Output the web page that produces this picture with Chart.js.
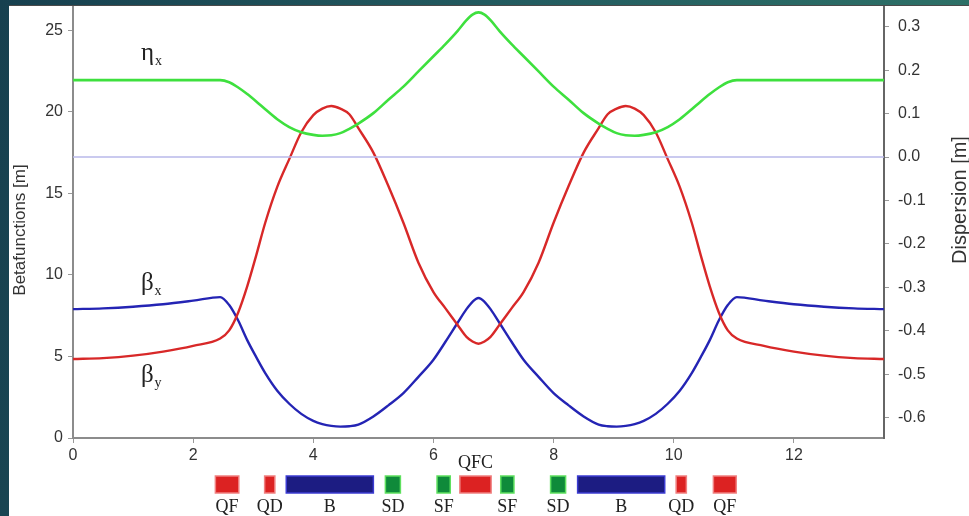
<!DOCTYPE html>
<html><head><meta charset="utf-8">
<script src="https://cdn.jsdelivr.net/npm/chart.js@4.4.1/dist/chart.umd.min.js"></script>
<style>
html,body{margin:0;padding:0;width:969px;height:516px;overflow:hidden;background:linear-gradient(100deg,#17404f 0%,#235c60 50%,#2f7468 100%);}
#wrap{position:absolute;left:9px;top:5px;width:960px;height:511px;background:#fff;}
#edge{position:absolute;left:9px;top:5px;width:960px;height:1px;background:#4a4a4a;}
canvas{display:block}
</style></head><body>
<div id="wrap"><canvas id="c" width="960" height="511"></canvas></div>
<div id="edge"></div>
<script>
// longitudinal position s [m]
const positions = [0,0.5,1,1.5,2,2.45,2.6,2.75,2.9,3.05,3.2,3.4,3.6,3.8,4.0,4.15,4.3,4.45,4.6,4.75,5.0,5.25,5.5,5.75,6.0,6.2,6.4,6.55,6.65,
  6.75,
  6.85,6.95,7.1,7.3,7.5,7.75,8.0,8.25,8.5,8.75,8.9,9.05,9.2,9.35,9.5,9.7,9.9,10.1,10.3,10.45,10.6,10.75,10.9,11.05,11.5,12,12.5,13,13.5];
// beta_x [m]
const betaX = [7.9,7.95,8.05,8.2,8.42,8.64,8.15,7.2,6.0,4.96,3.98,2.9,2.1,1.48,1.05,0.85,0.74,0.7,0.72,0.82,1.32,2.0,2.75,3.75,4.8,5.9,7.05,7.9,8.35,
  8.58,
  8.35,7.9,7.05,5.9,4.8,3.75,2.75,2.0,1.32,0.82,0.72,0.7,0.74,0.85,1.05,1.48,2.1,2.9,3.98,4.96,6.0,7.2,8.15,8.64,8.42,8.2,8.05,7.95,7.9];
// beta_y [m]
const betaY = [4.84,4.9,5.05,5.3,5.65,6.1,6.6,7.7,9.3,11.2,13.2,15.4,17.1,18.75,19.8,20.2,20.36,20.2,19.85,19.0,17.5,15.45,13.2,10.75,8.95,7.95,6.94,6.2,5.92,
  5.78,
  5.92,6.2,6.94,7.95,8.95,10.75,13.2,15.45,17.5,19.0,19.85,20.2,20.36,20.2,19.8,18.75,17.1,15.4,13.2,11.2,9.3,7.7,6.6,6.1,5.65,5.3,5.05,4.9,4.84];
// eta_x dispersion [m]
const etaX = [0.177,0.177,0.177,0.177,0.177,0.177,0.172,0.16,0.145,0.128,0.11,0.087,0.069,0.057,0.051,0.049,0.05,0.055,0.065,0.077,0.101,0.132,0.162,0.197,0.232,0.26,0.29,0.315,0.328,
  0.333,
  0.328,0.315,0.29,0.26,0.232,0.197,0.162,0.132,0.101,0.077,0.065,0.055,0.05,0.049,0.051,0.057,0.069,0.087,0.11,0.128,0.145,0.16,0.172,0.177,0.177,0.177,0.177,0.177,0.177];

const xTicks = [0,2,4,6,8,10,12];
const betaTicks = [0,5,10,15,20,25];
const dispTicks = [0.3,0.2,0.1,0.0,-0.1,-0.2,-0.3,-0.4,-0.5,-0.6];

// lattice elements
const magnetNames = ['QF','QD','B','SD','SF','QFC','SF','SD','B','QD','QF'];
const magnetStart = [2.37,3.19,3.55,5.20,6.06,6.44,7.12,7.95,8.40,10.04,10.66];
const magnetEnd   = [2.76,3.36,5.00,5.45,6.28,6.96,7.34,8.20,9.85,10.21,11.04];
const magnetKind  = ['Q','Q','B','S','S','Q','S','S','B','Q','Q'];

const pts = arr => positions.map((s,i)=>({x:s,y:arr[i]}));

const kindStyle = {
  Q:{fill:'#dc2222',stroke:'#f08080'},
  B:{fill:'#1c1c82',stroke:'#3c3cd2'},
  S:{fill:'#0f8a3a',stroke:'#5fe05f'}
};

const overlay = {
  id:'overlay',
  afterDraw(chart){
    const ctx = chart.ctx, xs = chart.scales.x, ys = chart.scales.y;
    ctx.save();
    // axis titles
    ctx.fillStyle = '#333';
    ctx.textAlign = 'center'; ctx.textBaseline = 'middle';
    ctx.font = '17px "Liberation Sans", Arial, sans-serif';
    ctx.save(); ctx.translate(11, 225); ctx.rotate(-Math.PI/2); ctx.fillText('Betafunctions [m]', 0, 0); ctx.restore();
    ctx.font = '20px "Liberation Sans", Arial, sans-serif';
    ctx.save(); ctx.translate(951, 195); ctx.rotate(-Math.PI/2); ctx.fillText('Dispersion [m]', 0, 0); ctx.restore();
    // curve labels
    const lab = (g, sub, s, v) => {
      const px = xs.getPixelForValue(s), py = ys.getPixelForValue(v);
      ctx.textAlign = 'left'; ctx.textBaseline = 'alphabetic'; ctx.fillStyle = '#222';
      ctx.font = '25px "Liberation Serif", "Times New Roman", serif';
      ctx.fillText(g, px, py);
      const w = ctx.measureText(g).width;
      ctx.font = '14px "Liberation Serif", "Times New Roman", serif';
      ctx.fillText(sub, px + w + 1, py + 5);
    };
    lab('\u03B7', 'x', 1.13, 23.2);
    lab('\u03B2', 'x', 1.13, 9.1);
    lab('\u03B2', 'y', 1.13, 3.45);
    // lattice
    ctx.font = '18px "Liberation Serif", "Times New Roman", serif';
    for (let i=0;i<magnetNames.length;i++){
      const x0 = xs.getPixelForValue(magnetStart[i]), x1 = xs.getPixelForValue(magnetEnd[i]);
      const st = kindStyle[magnetKind[i]];
      ctx.fillStyle = st.fill; ctx.fillRect(x0, 471, x1-x0, 17);
      ctx.strokeStyle = st.stroke; ctx.lineWidth = 1.5; ctx.strokeRect(x0, 471, x1-x0, 17);
      ctx.fillStyle = '#222'; ctx.textAlign = 'center'; ctx.textBaseline = 'middle';
      const cy = magnetNames[i]==='QFC' ? 458 : 502;
      ctx.fillText(magnetNames[i], (x0+x1)/2, cy);
    }
    ctx.restore();
  }
};

const tickFont = {family:'"Liberation Sans", Arial, sans-serif', size:16};
const gridCfg = {display:true, drawOnChartArea:false, drawTicks:true, tickLength:5, color:'#999'};
const noPad = s => { s.paddingTop = 0; s.paddingBottom = 0; s.paddingLeft = 0; s.paddingRight = 0; };

new Chart(document.getElementById('c'), {
  type:'line',
  data:{datasets:[
    {label:'zero', data:[{x:0,y:0},{x:13.5,y:0}], yAxisID:'y2', borderColor:'#b8b8ea', borderWidth:1.5, pointRadius:0},
    {label:'eta_x', data:pts(etaX), yAxisID:'y2', borderColor:'#3ee03e', borderWidth:2.6, pointRadius:0, cubicInterpolationMode:'monotone'},
    {label:'beta_y', data:pts(betaY), yAxisID:'y', borderColor:'#d82828', borderWidth:2.4, pointRadius:0, cubicInterpolationMode:'monotone'},
    {label:'beta_x', data:pts(betaX), yAxisID:'y', borderColor:'#2424b4', borderWidth:2.4, pointRadius:0, cubicInterpolationMode:'monotone'}
  ]},
  options:{
    responsive:false, animation:false, devicePixelRatio:1,
    layout:{padding:0},
    plugins:{legend:{display:false}, tooltip:{enabled:false}},
    scales:{
      x:{type:'linear', position:'bottom', min:0, max:13.5,
        afterBuildTicks:s=>{s.ticks = xTicks.map(v=>({value:v}));},
        afterFit:s=>{s.height = 78; noPad(s);},
        grid:gridCfg, border:{display:true, color:'#8c8c8c', width:2},
        ticks:{font:tickFont, color:'#333', padding:3, maxRotation:0, autoSkip:false}},
      y:{type:'linear', position:'left', min:0, max:26.55,
        afterBuildTicks:s=>{s.ticks = betaTicks.map(v=>({value:v}));},
        afterFit:s=>{s.width = 64; noPad(s);},
        grid:gridCfg, border:{display:true, color:'#8c8c8c', width:2},
        ticks:{font:tickFont, color:'#333', padding:5}},
      y2:{type:'linear', position:'right', min:-0.647, max:0.35,
        afterBuildTicks:s=>{s.ticks = dispTicks.map(v=>({value:v}));},
        afterFit:s=>{s.width = 85; noPad(s);},
        grid:gridCfg, border:{display:true, color:'#666', width:2},
        ticks:{font:tickFont, color:'#333', padding:9, callback:v=>Number(v).toFixed(1)}}
    }
  },
  plugins:[overlay]
});
</script>
</body></html>
